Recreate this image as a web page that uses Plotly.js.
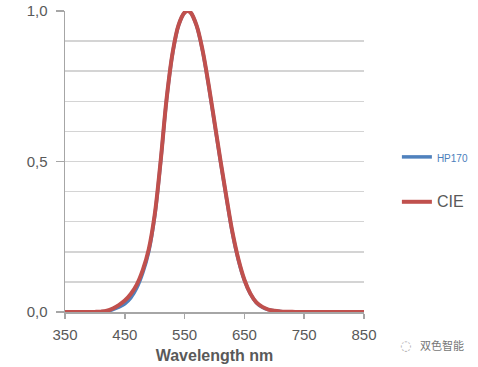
<!DOCTYPE html>
<html>
<head>
<meta charset="utf-8">
<script src="https://cdn.plot.ly/plotly-3.0.1.min.js"></script>
<style>
html,body{margin:0;padding:0;background:#fff;}
#chart{width:478px;height:367px;}
</style>
</head>
<body>
<div id="chart"></div>
<script>
const wavelengths = [350,360,370,380,390,400,410,420,430,440,450,460,470,480,490,500,510,520,530,540,550,555,560,570,580,590,600,610,620,630,640,650,660,670,680,690,700,710,720,730,740,750,760,770,780,800,850];
const cieValues = [0,0,0,0.00004,0.00012,0.0004,0.0012,0.004,0.0116,0.023,0.038,0.06,0.091,0.139,0.208,0.323,0.503,0.71,0.862,0.954,0.995,1.0,0.995,0.952,0.87,0.757,0.631,0.503,0.381,0.265,0.175,0.107,0.061,0.032,0.017,0.0082,0.0041,0.0021,0.00105,0.00052,0.00025,0.00012,0.00006,0.00003,0.000015,0,0];
const hp170Values = [0,0,0,0.00003,0.0001,0.0003,0.0009,0.003,0.008,0.016,0.027,0.047,0.08,0.13,0.2,0.318,0.5,0.708,0.86,0.953,0.995,1.0,0.995,0.951,0.868,0.754,0.628,0.5,0.378,0.262,0.172,0.105,0.06,0.031,0.016,0.0078,0.0039,0.002,0.001,0.0005,0.00024,0.00011,0.00005,0.00002,0.00001,0,0];
const yTickVals = [0, 0.5, 1.0];
const yTickText = ['0,0', '0,5', '1,0'];
const xTickVals = [350,450,550,650,750,850];
const seriesNames = ['HP170', 'CIE'];

const traces = [
  {
    x: wavelengths, y: hp170Values, type: 'scatter', mode: 'lines',
    name: '<span style="font-size:10px;color:#4a7ebb">' + seriesNames[0] + '</span>',
    line: {color: '#4f81bd', width: 3.5, shape: 'spline'},
    legendgroup: 'a'
  },
  {
    x: wavelengths, y: cieValues, type: 'scatter', mode: 'lines',
    name: '<span style="font-size:16px;color:#595959">' + seriesNames[1] + '</span>',
    line: {color: '#c0504d', width: 4, shape: 'spline'},
    legendgroup: 'b'
  }
];

const layout = {
  width: 478, height: 367,
  margin: {l: 65, r: 114, t: 11, b: 55, autoexpand: false},
  paper_bgcolor: '#ffffff', plot_bgcolor: '#ffffff',
  font: {family: 'Liberation Sans, Arial, sans-serif', color: '#595959', size: 13},
  showlegend: true,
  legend: {
    x: 1.11, y: 0.565, xanchor: 'left', yanchor: 'top',
    tracegroupgap: 25, bgcolor: 'rgba(0,0,0,0)',
    font: {size: 13, color: '#595959'}, itemwidth: 30
  },
  xaxis: {
    range: [350, 850], tickvals: xTickVals, ticktext: xTickVals.map(String),
    ticks: 'outside', ticklen: 5, tickcolor: '#a6a6a6', tickwidth: 1.5,
    showline: true, linecolor: '#a6a6a6', linewidth: 1.5, automargin: false,
    showgrid: false, zeroline: false, ticklabelstandoff: 3,
    tickfont: {size: 15, color: '#595959'},
    title: {text: '<b>Wavelength nm</b>', font: {size: 16, color: '#595959'}, standoff: 8}
  },
  yaxis: {
    range: [0, 1.0], tickvals: yTickVals, ticktext: yTickText,
    ticks: 'outside', ticklen: 8, tickcolor: '#a6a6a6', tickwidth: 1.5,
    showline: true, linecolor: '#a6a6a6', linewidth: 1.5, automargin: false,
    showgrid: true, gridcolor: '#d4d4d4', gridwidth: 1.5,
    minor: {dtick: 0.1, showgrid: true, gridcolor: '#d4d4d4', gridwidth: 1.5, ticks: ''},
    zeroline: false, ticklabelstandoff: 5,
    tickfont: {size: 15, color: '#595959'}
  },
  annotations: [
    {
      xref: 'paper', yref: 'paper', x: 1.18, y: -0.11, xanchor: 'left', yanchor: 'middle',
      text: '双色智能', showarrow: false,
      font: {family: 'Noto Sans CJK SC', size: 11, color: '#777777'}
    },
    {
      xref: 'paper', yref: 'paper', x: 1.165, y: -0.11, xanchor: 'right', yanchor: 'middle',
      text: '◌', showarrow: false,
      font: {family: 'DejaVu Sans', size: 13, color: '#aaaaaa'}
    }
  ]
};

Plotly.newPlot('chart', traces, layout, {displayModeBar: false, staticPlot: true});
</script>
</body>
</html>
